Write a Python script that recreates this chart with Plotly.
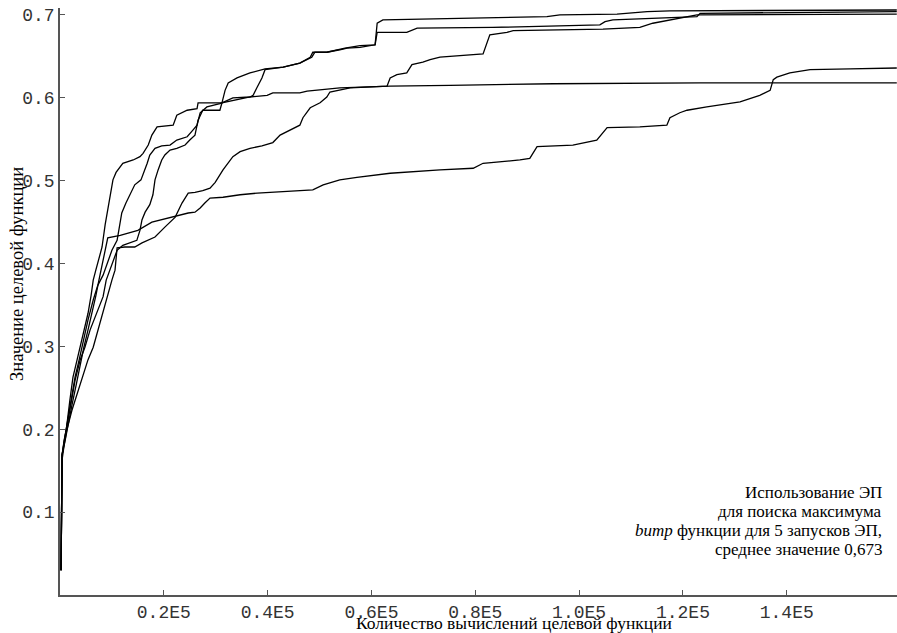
import plotly.graph_objects as go

# --- data (x = number of objective evaluations, y = objective value) ---
run1_x = [200, 400, 800, 1200, 1900, 2500, 3300, 3900, 4600, 5400, 6000, 6400, 6900, 7300, 8100, 8700, 9100, 9600, 10000, 10200, 10800, 12100, 14100, 15400, 16000, 17000, 17700, 18700, 21800, 22500, 24500, 26400, 26600, 31200, 33300, 36600, 39900, 41000, 46200, 47600, 53900, 57800, 63600, 75100, 95000, 123300, 161200]
run1_y = [0.030, 0.169, 0.187, 0.199, 0.235, 0.263, 0.284, 0.299, 0.320, 0.340, 0.362, 0.380, 0.392, 0.401, 0.420, 0.447, 0.461, 0.480, 0.495, 0.501, 0.510, 0.521, 0.525, 0.529, 0.533, 0.543, 0.555, 0.565, 0.567, 0.579, 0.585, 0.587, 0.594, 0.594, 0.600, 0.601, 0.603, 0.606, 0.606, 0.608, 0.612, 0.613, 0.614, 0.615, 0.617, 0.618, 0.618]

run2_x = [200, 400, 1000, 1500, 2300, 2900, 3700, 4200, 5400, 6400, 7300, 8300, 9100, 10000, 11000, 11600, 11900, 12700, 13500, 14400, 15600, 16200, 16800, 17300, 18300, 19600, 21200, 22500, 24500, 25600, 26400, 27000, 28300, 30800, 31200, 31800, 32400, 34100, 36600, 39500, 43000, 46200, 48200, 48700, 51400, 53900, 55300, 57800, 60700, 61100, 62200, 93800, 96300, 107300, 113100, 117500, 161200]
run2_y = [0.030, 0.169, 0.193, 0.211, 0.241, 0.263, 0.284, 0.299, 0.332, 0.356, 0.374, 0.386, 0.401, 0.416, 0.428, 0.447, 0.461, 0.473, 0.483, 0.495, 0.501, 0.510, 0.521, 0.531, 0.539, 0.542, 0.543, 0.549, 0.553, 0.561, 0.567, 0.582, 0.589, 0.593, 0.594, 0.609, 0.618, 0.624, 0.630, 0.635, 0.637, 0.642, 0.649, 0.655, 0.655, 0.658, 0.660, 0.661, 0.664, 0.690, 0.694, 0.698, 0.700, 0.701, 0.704, 0.705, 0.706]

run3_x = [200, 400, 1200, 2900, 3900, 4800, 5800, 7100, 8300, 8900, 9600, 10200, 11000, 12100, 13500, 14800, 15400, 15800, 16400, 17300, 17900, 18300, 18900, 19600, 20200, 21200, 22500, 24100, 25000, 26000, 26600, 27000, 27500, 30800, 31200, 36600, 37200, 38000, 38900, 39500, 43000, 46200, 48500, 49100, 51400, 54900, 57800, 60700, 61100, 66800, 68800, 83400, 104000, 105000, 106500, 122700, 123300, 161200]
run3_y = [0.030, 0.169, 0.199, 0.259, 0.284, 0.299, 0.320, 0.340, 0.360, 0.380, 0.392, 0.401, 0.416, 0.422, 0.425, 0.428, 0.440, 0.453, 0.462, 0.471, 0.483, 0.501, 0.513, 0.525, 0.531, 0.537, 0.539, 0.543, 0.549, 0.555, 0.573, 0.579, 0.585, 0.585, 0.594, 0.601, 0.603, 0.613, 0.624, 0.634, 0.637, 0.642, 0.649, 0.655, 0.655, 0.660, 0.663, 0.664, 0.679, 0.679, 0.684, 0.685, 0.688, 0.692, 0.694, 0.698, 0.702, 0.704]

run4_x = [200, 400, 800, 1300, 2300, 3500, 4400, 5400, 6400, 7300, 8300, 9200, 10000, 10600, 10800, 11000, 12500, 14400, 15800, 17000, 18300, 20200, 22200, 23500, 24700, 26000, 27500, 28900, 29900, 31400, 32400, 33300, 34700, 36600, 38900, 41000, 42400, 44300, 46200, 46800, 48200, 50100, 51400, 52000, 55900, 63000, 63600, 64900, 66800, 67800, 69900, 71300, 73200, 81500, 82800, 86100, 87300, 104600, 111700, 114200, 118100, 122700, 161200]
run4_y = [0.030, 0.163, 0.181, 0.199, 0.223, 0.247, 0.263, 0.284, 0.299, 0.320, 0.340, 0.361, 0.380, 0.392, 0.410, 0.419, 0.420, 0.420, 0.425, 0.428, 0.432, 0.444, 0.456, 0.473, 0.485, 0.486, 0.488, 0.491, 0.498, 0.513, 0.521, 0.529, 0.535, 0.539, 0.542, 0.546, 0.555, 0.561, 0.567, 0.576, 0.588, 0.594, 0.601, 0.607, 0.612, 0.614, 0.624, 0.628, 0.630, 0.640, 0.643, 0.646, 0.649, 0.653, 0.676, 0.679, 0.681, 0.683, 0.685, 0.690, 0.695, 0.700, 0.701]

run5_x = [200, 400, 1000, 1500, 2300, 3100, 3900, 4600, 5400, 6200, 6900, 7500, 8100, 8700, 9200, 11600, 15000, 17700, 19600, 21600, 24700, 26000, 27000, 27900, 28900, 31400, 34700, 38000, 48700, 50700, 53900, 57200, 63600, 73200, 79600, 81500, 88600, 90500, 91900, 98800, 101100, 103400, 105400, 111700, 116900, 117500, 119400, 120800, 124600, 131000, 134800, 136800, 137400, 138100, 140600, 144500, 152200, 161200]
run5_y = [0.030, 0.169, 0.187, 0.205, 0.229, 0.253, 0.278, 0.299, 0.320, 0.340, 0.361, 0.380, 0.398, 0.416, 0.431, 0.434, 0.440, 0.450, 0.453, 0.456, 0.461, 0.462, 0.467, 0.473, 0.479, 0.480, 0.483, 0.485, 0.489, 0.495, 0.501, 0.504, 0.509, 0.513, 0.515, 0.521, 0.525, 0.527, 0.541, 0.543, 0.546, 0.549, 0.564, 0.565, 0.567, 0.576, 0.582, 0.585, 0.589, 0.595, 0.603, 0.609, 0.622, 0.625, 0.630, 0.634, 0.635, 0.636]

x_tick_vals = [20000, 40000, 60000, 80000, 100000, 120000, 140000]
x_tick_text = ["0.2E5", "0.4E5", "0.6E5", "0.8E5", "1.0E5", "1.2E5", "1.4E5"]
y_tick_vals = [0.1, 0.2, 0.3, 0.4, 0.5, 0.6, 0.7]
y_tick_text = ["0.1", "0.2", "0.3", "0.4", "0.5", "0.6", "0.7"]

x_title = "Количество вычислений целевой функции"
y_title = "Значение целевой функции"
note_lines = ["Использование ЭП", "для поиска максимума",
              "<i>bump</i> функции для 5 запусков ЭП,", "среднее значение 0,673"]

runs = [(run1_x, run1_y), (run2_x, run2_y), (run3_x, run3_y),
        (run4_x, run4_y), (run5_x, run5_y)]

fig = go.Figure()
for xs, ys in runs:
    fig.add_trace(go.Scatter(x=xs, y=ys, mode="lines",
                             line=dict(color="black", width=1.3),
                             showlegend=False, hoverinfo="skip"))

W, H = 897, 633
L, R, T, B = 60, 0, 8, 38
pw, ph = W - L - R, H - T - B

def px2paper_x(px):
    return (px - L) / pw

def py2paper_y(py):
    return (H - B - py) / ph

axis_font = dict(family="Liberation Mono, Courier New, monospace", size=18, color="#333")

fig.update_layout(
    width=W, height=H,
    margin=dict(l=L, r=R, t=T, b=B, pad=0),
    paper_bgcolor="white", plot_bgcolor="white",
    xaxis=dict(range=[0, 161240], tickvals=x_tick_vals, ticktext=x_tick_text,
               showgrid=False, zeroline=False, showline=True, linecolor="#555",
               linewidth=1.5, ticks="inside", ticklen=5, tickcolor="#555",
               tickfont=axis_font, fixedrange=True),
    yaxis=dict(range=[0, 0.7084], tickvals=y_tick_vals, ticktext=y_tick_text,
               showgrid=False, zeroline=False, showline=True, linecolor="#555",
               linewidth=1.5, ticks="inside", ticklen=5, tickcolor="#555",
               tickfont=axis_font, fixedrange=True),
    font=dict(family="Liberation Serif, Times New Roman, serif", color="black"),
)

title_font = dict(family="Liberation Serif, Times New Roman, serif", size=17.5, color="black")
ytitle_font = dict(family="Liberation Serif, Times New Roman, serif", size=18.5, color="black")
note_font = dict(family="Liberation Serif, Times New Roman, serif", size=17, color="black")

fig.add_annotation(text=x_title, xref="paper", yref="paper",
                   x=px2paper_x(514), y=py2paper_y(623), xanchor="center",
                   yanchor="middle", showarrow=False, font=title_font, borderpad=0)
fig.add_annotation(text=y_title, xref="paper", yref="paper", textangle=-90,
                   x=px2paper_x(17), y=py2paper_y(274), xanchor="center",
                   yanchor="middle", showarrow=False, font=ytitle_font)
for i, line in enumerate(note_lines):
    fig.add_annotation(text=line, xref="paper", yref="paper",
                       x=px2paper_x(884), y=py2paper_y(492 + i * 19),
                       xanchor="right", yanchor="middle", showarrow=False,
                       font=note_font)

fig.write_html("out.html")
